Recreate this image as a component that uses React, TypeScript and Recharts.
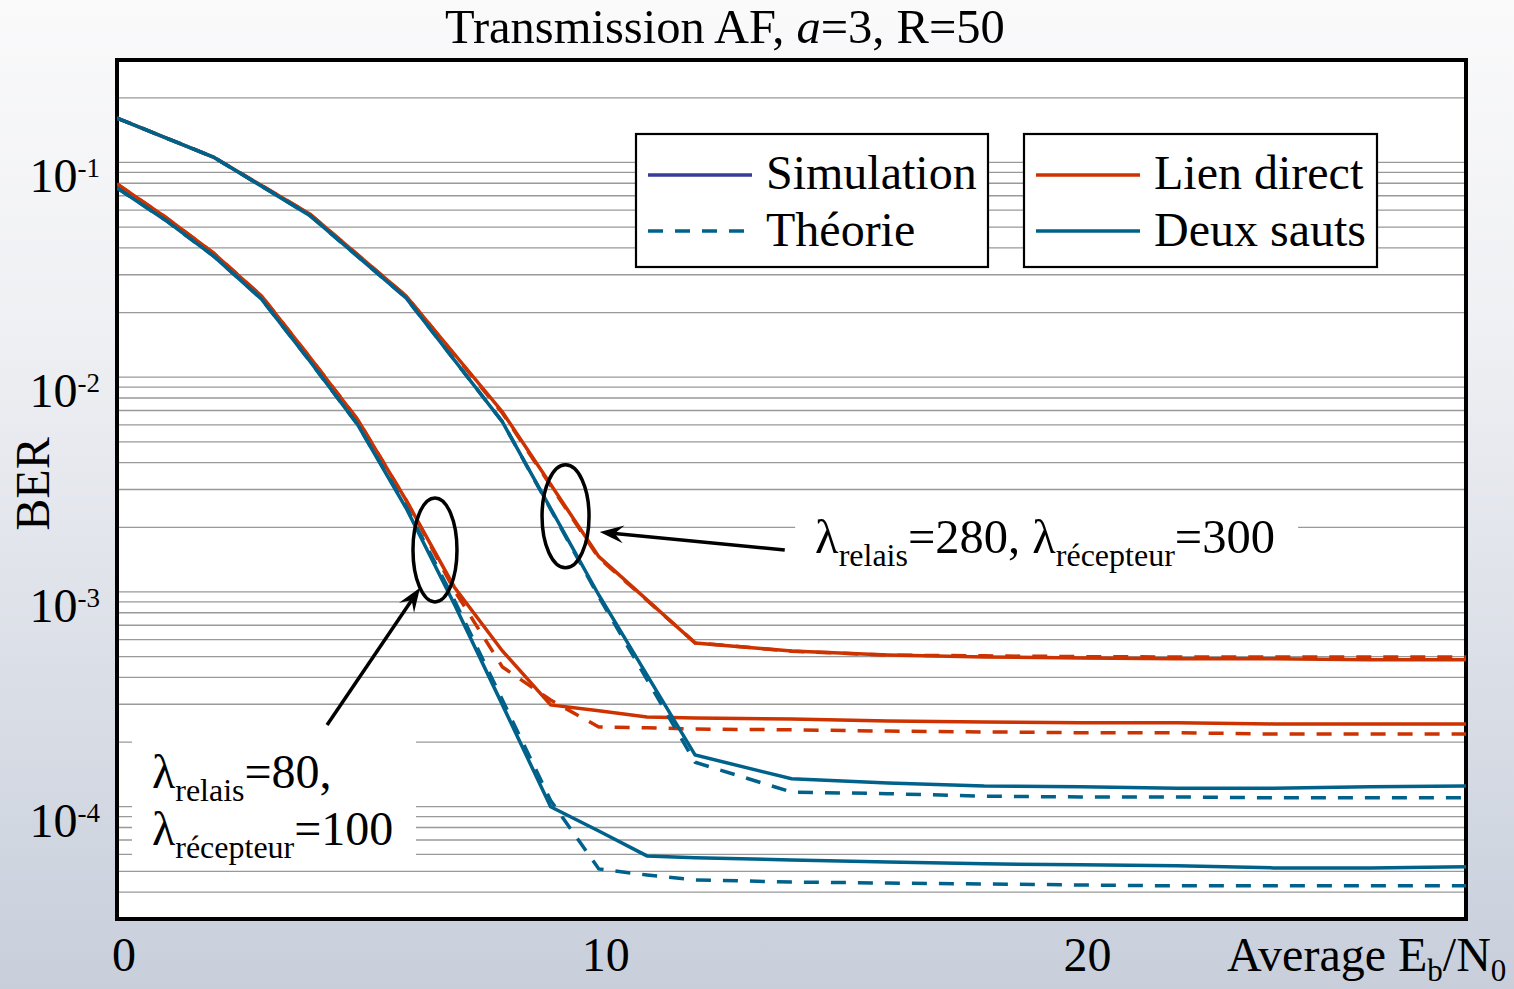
import React from 'react';
import {
  LineChart,
  Line,
  XAxis,
  YAxis,
  CartesianGrid,
  ReferenceArea,
  ReferenceDot,
  ReferenceLine,
  Legend,
} from 'recharts';

const FONT = "'Liberation Serif', 'Times New Roman', Times, serif";
const RED = '#cc3300';
const BLUE = '#00628a';
const INDIGO = '#3a3a98';
const W = 1514;
const H = 989;

// Average Eb/N0 (dB) sample points
const snrHigh = [0, 2, 4, 6, 8, 10, 12, 14, 16, 18, 20, 22, 24, 26, 28];
const snrLow = [0, 1, 2, 3, 4, 5, 6, 7, 8, 9, 10, 11, 12, 14, 16, 18, 20, 22, 24, 26, 28];

// lambda_relais = 280, lambda_recepteur = 300
const directSimHigh = [0.161, 0.106, 0.0576, 0.0239, 0.00689, 0.00146, 5.78e-4, 5.31e-4, 5.09e-4, 4.98e-4, 4.93e-4, 4.88e-4, 4.88e-4, 4.83e-4, 4.83e-4];
const directTheoHigh = [0.161, 0.106, 0.0576, 0.0239, 0.0068, 0.00144, 5.8e-4, 5.3e-4, 5.08e-4, 5.04e-4, 5.0e-4, 4.98e-4, 4.98e-4, 4.98e-4, 4.98e-4];
const twoHopSimHigh = [0.161, 0.106, 0.0567, 0.0234, 0.00619, 9.68e-4, 1.74e-4, 1.35e-4, 1.29e-4, 1.25e-4, 1.24e-4, 1.22e-4, 1.22e-4, 1.24e-4, 1.25e-4];
const twoHopTheoHigh = [0.161, 0.106, 0.0567, 0.0234, 0.0062, 9.5e-4, 1.61e-4, 1.17e-4, 1.15e-4, 1.12e-4, 1.11e-4, 1.11e-4, 1.1e-4, 1.1e-4, 1.1e-4];

// lambda_relais = 80, lambda_recepteur = 100
const directSimLow = [0.0794, 0.0557, 0.0379, 0.0239, 0.01242, 0.00632, 0.00268, 0.001055, 5.31e-4, 2.98e-4, 2.8e-4, 2.62e-4, 2.59e-4, 2.56e-4, 2.51e-4, 2.48e-4, 2.46e-4, 2.46e-4, 2.43e-4, 2.43e-4, 2.43e-4];
const directTheoLow = [0.0794, 0.0557, 0.0379, 0.0239, 0.01242, 0.00632, 0.00268, 0.00102, 4.47e-4, 3.14e-4, 2.35e-4, 2.33e-4, 2.3e-4, 2.28e-4, 2.25e-4, 2.23e-4, 2.21e-4, 2.21e-4, 2.18e-4, 2.18e-4, 2.18e-4];
const twoHopSimLow = [0.0761, 0.054, 0.0367, 0.0231, 0.0119, 0.00599, 0.00246, 8.79e-4, 2.98e-4, 1.0e-4, 7.71e-5, 5.9e-5, 5.78e-5, 5.65e-5, 5.53e-5, 5.42e-5, 5.36e-5, 5.31e-5, 5.19e-5, 5.19e-5, 5.25e-5];
const twoHopTheoLow = [0.0761, 0.054, 0.0367, 0.0231, 0.0119, 0.00599, 0.0025, 9.18e-4, 3.14e-4, 1.07e-4, 5.13e-5, 4.81e-5, 4.56e-5, 4.46e-5, 4.41e-5, 4.37e-5, 4.32e-5, 4.28e-5, 4.28e-5, 4.28e-5, 4.28e-5];

// axis ticks
const xTicks = [0, 10, 20];
const decadeTicks = [1e-4, 1e-3, 1e-2, 1e-1];
const gridTicks = [
  4e-5, 5e-5, 6e-5, 7e-5, 8e-5, 9e-5,
  1e-4, 2e-4, 3e-4, 4e-4, 5e-4, 6e-4, 7e-4, 8e-4, 9e-4,
  1e-3, 2e-3, 3e-3, 4e-3, 5e-3, 6e-3, 7e-3, 8e-3, 9e-3,
  1e-2, 2e-2, 3e-2, 4e-2, 5e-2, 6e-2, 7e-2, 8e-2, 9e-2,
  1e-1, 2e-1,
];
const xDomain = [0, 28];
const yDomain = [3e-5, 0.3];

// legend entries
const styleItems = [
  { label: 'Simulation', color: INDIGO, dashed: false },
  { label: 'Théorie', color: BLUE, dashed: true },
];
const linkItems = [
  { label: 'Lien direct', color: RED, dashed: false },
  { label: 'Deux sauts', color: BLUE, dashed: false },
];

// annotations (data coordinates)
const ovalLow = { x: 6.6, y: 1.57e-3 };
const ovalHigh = { x: 9.31, y: 2.25e-3 };
const arrowHigh = [{ x: 13.86, y: 1.57e-3 }, { x: 10.02, y: 1.9e-3 }];
const arrowLow = [{ x: 4.36, y: 2.4e-4 }, { x: 6.29, y: 1.045e-3 }];
const labelHigh = { x: 14.49, y: 1.52e-3 };
const labelLow = { x: 0.726, y: 1.22e-4 };

const toPoints = (xs: number[], ys: number[]) => xs.map((x, i) => ({ x, y: ys[i] }));

const series = [
  { key: 'ds-h', data: toPoints(snrHigh, directSimHigh), color: RED, dashed: false },
  { key: 'dt-h', data: toPoints(snrHigh, directTheoHigh), color: RED, dashed: true },
  { key: 'ds-l', data: toPoints(snrLow, directSimLow), color: RED, dashed: false },
  { key: 'dt-l', data: toPoints(snrLow, directTheoLow), color: RED, dashed: true },
  { key: 'ts-h', data: toPoints(snrHigh, twoHopSimHigh), color: BLUE, dashed: false },
  { key: 'tt-h', data: toPoints(snrHigh, twoHopTheoHigh), color: BLUE, dashed: true },
  { key: 'ts-l', data: toPoints(snrLow, twoHopSimLow), color: BLUE, dashed: false },
  { key: 'tt-l', data: toPoints(snrLow, twoHopTheoLow), color: BLUE, dashed: true },
];

const YTick = (props: any) => {
  const { x, y, payload } = props;
  if (!decadeTicks.some((d) => Math.abs(d - payload.value) / d < 1e-6)) return null;
  const exp = Math.round(Math.log10(payload.value));
  return (
    <text x={x - 17} y={y + 30} textAnchor="end" fontFamily={FONT} fontSize={48} fill="#000">
      10
      <tspan dy={-15} fontSize={27}>{`-${Math.abs(exp)}`}</tspan>
    </text>
  );
};

const XTick = (props: any) => {
  const { x, y, payload } = props;
  return (
    <text x={x + 7} y={y + 52} textAnchor="middle" fontFamily={FONT} fontSize={48} fill="#000">
      {payload.value}
    </text>
  );
};

const Oval = (rx: number, ry: number) => (p: any) => (
  <ellipse cx={p.cx} cy={p.cy} rx={rx} ry={ry} fill="none" stroke="#000" strokeWidth={3.5} />
);

const Arrow = (p: any) => {
  const { x1, y1, x2, y2 } = p;
  const a = Math.atan2(y2 - y1, x2 - x1);
  const c = Math.cos(a);
  const s = Math.sin(a);
  const len = 24;
  const half = 9;
  const notch = 15;
  const bx = x2 - len * c;
  const by = y2 - len * s;
  const nx = x2 - notch * c;
  const ny = y2 - notch * s;
  const pts = [
    [x2, y2],
    [bx - half * s, by + half * c],
    [nx, ny],
    [bx + half * s, by - half * c],
  ]
    .map((q) => q.join(','))
    .join(' ');
  return (
    <g>
      <line x1={x1} y1={y1} x2={nx} y2={ny} stroke="#000" strokeWidth={3.5} />
      <polygon points={pts} fill="#000" />
    </g>
  );
};

const LabelHigh = (p: any) => {
  const { cx, cy } = p;
  return (
    <g>
      <rect x={cx - 20} y={cy - 53} width={503} height={82} fill="#fff" />
      <text x={cx} y={cy} fontFamily={FONT} fontSize={48.5} fill="#000">
        λ<tspan fontSize={32} dy={13}>relais</tspan>
        <tspan dy={-13}>=280, λ</tspan>
        <tspan fontSize={32} dy={13}>récepteur</tspan>
        <tspan dy={-13}>=300</tspan>
      </text>
    </g>
  );
};

const LabelLow = (p: any) => {
  const { cx, cy } = p;
  return (
    <g>
      <rect x={cx - 20} y={cy - 56} width={284} height={130} fill="#fff" />
      <text x={cx} y={cy} fontFamily={FONT} fontSize={48} fill="#000">
        λ<tspan fontSize={32} dy={13}>relais</tspan>
        <tspan dy={-13}>=80,</tspan>
      </text>
      <text x={cx} y={cy + 57} fontFamily={FONT} fontSize={48} fill="#000">
        λ<tspan fontSize={32} dy={13}>récepteur</tspan>
        <tspan dy={-13}>=100</tspan>
      </text>
    </g>
  );
};

const LegendBoxes = () => {
  const boxes = [
    { items: styleItems, left: 6, width: 352 },
    { items: linkItems, left: 394, width: 353 },
  ];
  return (
    <svg width={760} height={146} style={{ display: 'block' }}>
      {boxes.map((b, bi) => (
        <g key={bi}>
          <rect x={b.left} y={6} width={b.width} height={133} fill="#fff" stroke="#000" strokeWidth={2.2} />
          {b.items.map((it, i) => (
            <g key={it.label}>
              <line
                x1={b.left + 12}
                x2={b.left + (it.dashed ? 110 : 116)}
                y1={47 + i * 56}
                y2={47 + i * 56}
                stroke={it.color}
                strokeWidth={3.5}
                strokeDasharray={it.dashed ? '15 12' : undefined}
              />
              <text x={b.left + 130} y={61 + i * 57} fontFamily={FONT} fontSize={48} fill="#000">
                {it.label}
              </text>
            </g>
          ))}
        </g>
      ))}
    </svg>
  );
};

export default function App() {
  return (
    <div
      style={{
        position: 'absolute',
        left: 0,
        top: 0,
        width: W,
        height: H,
        background: 'linear-gradient(to bottom, #fafafb 0%, #eff0f3 33%, #dce0e8 65%, #c8cfdb 100%)',
      }}
    >
      <LineChart width={W} height={H} margin={{ top: 60, right: 48, bottom: 0, left: 0 }}>
        <CartesianGrid vertical={false} fill="#fff" stroke="#999" strokeWidth={1.3} />
        <XAxis
          type="number"
          dataKey="x"
          domain={xDomain}
          ticks={xTicks}
          allowDataOverflow
          height={70}
          axisLine={false}
          tickLine={false}
          tickSize={0}
          tickMargin={0}
          tick={<XTick />}
        />
        <YAxis
          type="number"
          scale="log"
          domain={yDomain}
          ticks={gridTicks}
          allowDataOverflow
          width={117}
          axisLine={false}
          tickLine={false}
          tickSize={0}
          tickMargin={0}
          interval={0}
          tick={<YTick />}
        />
        <ReferenceDot x={labelHigh.x} y={labelHigh.y} ifOverflow="visible" shape={LabelHigh} />
        <ReferenceDot x={labelLow.x} y={labelLow.y} ifOverflow="visible" shape={LabelLow} />
        {series.map((s) => (
          <Line
            key={s.key}
            data={s.data}
            dataKey="y"
            type="linear"
            stroke={s.color}
            strokeWidth={3.5}
            strokeDasharray={s.dashed ? '15 12' : undefined}
            dot={false}
            activeDot={false}
            isAnimationActive={false}
            legendType="none"
          />
        ))}
        <ReferenceDot x={ovalLow.x} y={ovalLow.y} ifOverflow="visible" shape={Oval(22, 52)} />
        <ReferenceDot x={ovalHigh.x} y={ovalHigh.y} ifOverflow="visible" shape={Oval(23.5, 51.5)} />
        <ReferenceLine segment={arrowHigh} ifOverflow="visible" shape={Arrow} />
        <ReferenceLine segment={arrowLow} ifOverflow="visible" shape={Arrow} />
        <ReferenceArea
          x1={xDomain[0]}
          x2={xDomain[1]}
          y1={yDomain[0]}
          y2={yDomain[1]}
          ifOverflow="visible"
          fill="none"
          stroke="#000"
          strokeWidth={4}
        />
        <Legend
          layout="horizontal"
          verticalAlign="middle"
          align="center"
          wrapperStyle={{ left: 630, top: 128, width: 760, height: 146 }}
          content={() => <LegendBoxes />}
        />
        <text x={445} y={43} fontFamily={FONT} fontSize={48.5} fill="#000">
          Transmission AF, <tspan fontStyle="italic">a</tspan>=3, R=50
        </text>
        <text x={49} y={484} transform="rotate(-90, 49, 484)" textAnchor="middle" fontFamily={FONT} fontSize={48} fill="#000">
          BER
        </text>
        <text x={1227} y={971} fontFamily={FONT} fontSize={48} fill="#000">
          Average E<tspan fontSize={31} dy={10}>b</tspan>
          <tspan dy={-10}>/N</tspan>
          <tspan fontSize={31} dy={10}>0</tspan>
        </text>
      </LineChart>
    </div>
  );
}
